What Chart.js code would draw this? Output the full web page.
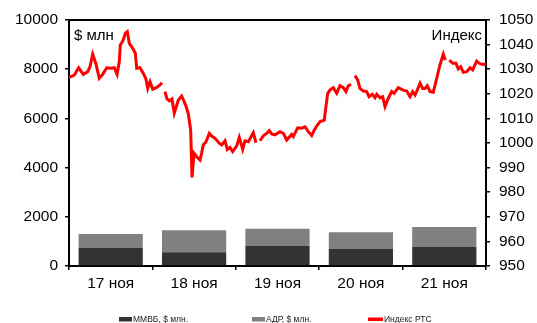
<!DOCTYPE html>
<html>
<head>
<meta charset="utf-8">
<script src="https://cdn.jsdelivr.net/npm/chart.js@4/dist/chart.umd.min.js"></script>
<style>
body{margin:0;background:#fff}
</style>
</head>
<body>
<canvas id="c" width="537" height="323"></canvas>
<script>
let days=["17 ноя","18 ноя","19 ноя","20 ноя","21 ноя"]

// оборот, $ млн
let micex=[740,560,810,690,770]
let adr=[560,890,700,680,815]

// индекс РТС внутри дня, время в днях от начала 17 ноя (null = перерыв)
let rtsTime=[
0.000,0.064,0.116,0.171,0.224,0.252,0.284,0.324,0.363,0.404,0.452,0.504,0.543,0.576,0.603,0.615,
0.651,0.675,0.699,0.723,0.764,0.795,0.812,0.851,0.891,0.923,0.944,0.971,1.004,1.052,1.091,1.115,
1.133,
1.151,1.175,1.203,1.235,1.262,1.311,1.351,1.403,1.430,1.459,1.475,1.499,1.531,1.571,1.591,1.610,
1.643,1.682,1.711,1.751,1.802,1.831,1.871,1.898,1.930,1.963,2.011,2.042,2.083,2.110,2.150,2.210,2.242,
2.266,
2.290,2.323,2.342,2.371,2.402,2.430,2.470,2.530,2.570,2.610,2.670,2.689,2.742,2.790,2.830,2.869,
2.910,2.941,2.970,3.010,3.061,3.078,3.102,3.129,3.169,3.210,3.249,3.289,3.321,3.349,3.381,
3.405,
3.429,3.462,3.489,3.529,3.570,3.597,3.637,3.669,3.690,3.729,3.761,3.789,3.829,3.869,3.897,3.948,
4.008,4.049,4.089,4.121,4.149,4.176,4.209,4.241,4.269,4.296,4.329,4.368,4.409,4.448,4.488,4.512,
4.536,
4.560,4.601,4.640,4.668,4.697,4.728,4.769,4.808,4.841,4.888,4.920,4.948,4.988,5.000
]
let rtsValue=[
1026.7,1027.6,1030.6,1027.9,1029.0,1031.0,1036.1,1032.0,1026.3,1027.9,1030.6,1030.4,1030.6,1027.9,1033.0,1039.8,
1041.9,1044.6,1045.3,1040.5,1038.5,1036.5,1030.4,1030.6,1028.3,1026.0,1022.2,1024.9,1021.9,1022.6,1023.6,1024.5,
null,
1020.9,1017.9,1017.1,1017.9,1012.1,1017.5,1019.1,1015.0,1012.0,1005.3,986.0,995.8,994.4,993.1,996.0,999.2,
1000.5,1003.9,1002.8,1001.9,999.9,999.2,1000.9,997.4,998.2,996.5,998.8,1002.3,997.4,1000.9,1000.5,1004.2,1000.1,
null,
1000.9,1002.6,1003.3,1003.9,1005.0,1003.7,1003.3,1004.6,1003.9,1001.2,1003.5,1002.6,1006.2,1006.0,1006.6,1004.6,
1003.0,1005.3,1006.9,1008.7,1009.3,1014.1,1020.2,1021.5,1022.5,1020.2,1023.3,1022.5,1020.9,1023.3,1023.9,
null,
1027.4,1025.6,1022.2,1021.1,1020.9,1018.8,1019.8,1018.4,1019.8,1018.4,1018.8,1014.8,1018.2,1020.9,1020.2,1022.5,
1021.5,1021.1,1018.8,1020.9,1019.5,1021.5,1024.3,1022.2,1022.2,1023.3,1020.9,1020.6,1026.3,1031.7,1036.1,1033.7,
null,
1033.7,1032.4,1032.4,1030.1,1031.0,1028.7,1029.0,1030.6,1029.7,1033.3,1032.4,1032.0,1032.0,1031.5
]

let leftTitle="$ млн"
let rightTitle="Индекс"

let FONT="'Liberation Sans', Arial, sans-serif"

let rtsPoints=rtsTime.map((t,i)=>({x:t,y:rtsValue[i]}))

// рамка сверху, подписи осей внутри поля и легенда снизу
let decor={
id:"decor",
afterDraw(chart){
let ctx=chart.ctx
let a=chart.chartArea
ctx.save()
ctx.strokeStyle="#000"
ctx.lineWidth=2
ctx.beginPath()
ctx.moveTo(a.left-1,a.top)
ctx.lineTo(a.right+1,a.top)
ctx.stroke()

ctx.fillStyle="#000"
ctx.font="15px "+FONT
ctx.textBaseline="alphabetic"
ctx.textAlign="left"
ctx.fillText(leftTitle,a.left+5,a.top+20)
ctx.textAlign="right"
ctx.fillText(rightTitle,a.right-4,a.top+20)

let lx=[119,252,368]
let y=319
ctx.font="8.5px "+FONT
ctx.textAlign="left"
ctx.textBaseline="middle"
chart.data.datasets.forEach((ds,i)=>{
let x=lx[i]
if(ds.type=="line"){
ctx.fillStyle=ds.borderColor
ctx.fillRect(x,y-1.5,15,3.5)
x+=16
}else{
ctx.fillStyle=ds.backgroundColor
ctx.fillRect(x,y-2,13,4.5)
x+=14
}
ctx.fillStyle="#222"
ctx.fillText(ds.label,x,y+0.5)
})
ctx.restore()
}
}

let plain=v=>String(v)

new Chart(document.getElementById("c"),{
type:"bar",
data:{
labels:days,
datasets:[
{label:"ММВБ, $ млн.",data:micex,backgroundColor:"#333333",grouped:false,barPercentage:0.77,categoryPercentage:1},
{label:"АДР, $ млн.",data:adr,backgroundColor:"#808080",grouped:false,barPercentage:0.77,categoryPercentage:1},
{label:"Индекс РТС",type:"line",data:rtsPoints,xAxisID:"xt",yAxisID:"y2",
borderColor:"#ff0000",borderWidth:3,pointRadius:0,tension:0,spanGaps:false}
]
},
options:{
responsive:false,
animation:false,
devicePixelRatio:1,
layout:{padding:{top:20,left:0,right:0,bottom:35}},
plugins:{legend:{display:false},tooltip:{enabled:false}},
scales:{
x:{
stacked:true,
grid:{drawOnChartArea:false,color:"#000",lineWidth:1.5,tickLength:4,offset:true},
border:{color:"#000",width:2},
ticks:{color:"#000",font:{family:FONT,size:15.5},padding:4,maxRotation:0},
afterFit(s){s.height=22}
},
xt:{type:"linear",min:0,max:5,offset:false,display:false},
y:{
stacked:true,
position:"left",
min:0,max:10000,
grid:{drawOnChartArea:false,color:"#000",lineWidth:1.5,tickLength:4},
border:{color:"#000",width:2},
ticks:{stepSize:2000,color:"#000",font:{family:FONT,size:15.5},padding:7,callback:plain},
afterFit(s){s.width=69}
},
y2:{
position:"right",
min:950,max:1050,
grid:{drawOnChartArea:false,color:"#000",lineWidth:1.5,tickLength:4},
border:{color:"#000",width:2},
ticks:{stepSize:10,color:"#000",font:{family:FONT,size:15.5},padding:9,callback:plain},
afterFit(s){s.width=51}
}
}
},
plugins:[decor]
})
</script>
</body>
</html>
